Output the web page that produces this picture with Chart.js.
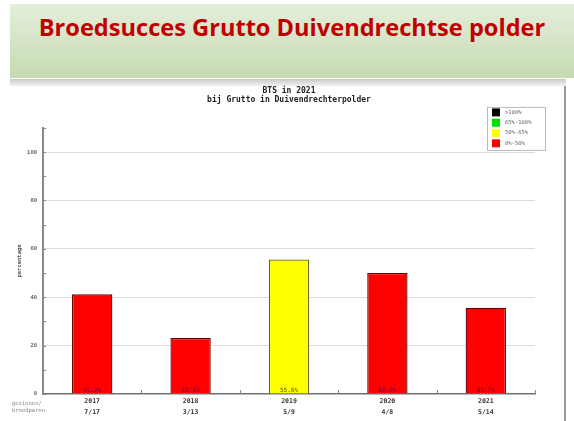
<!DOCTYPE html>
<html>
<head>
<meta charset="utf-8">
<script src="https://cdn.jsdelivr.net/npm/chart.js@4.4.1/dist/chart.umd.min.js"></script>
<style>
  html, body { margin: 0; padding: 0; background: #fff; width: 574px; height: 421px; overflow: hidden; position: relative; }
  #header { position: absolute; left: 10px; top: 4px; width: 564px; height: 74px;
    background: linear-gradient(#e4eedb, #c6dbb1); }
  #header h1 { margin: 0; position: absolute; left: 0; width: 564px; top: 7px; text-align: center;
    font-family: "Open Sans", sans-serif; font-weight: 700; font-size: 23.6px; color: #c00000; letter-spacing: 0px; }
  #band { position: absolute; left: 10px; top: 79px; width: 556px; height: 7px;
    background: linear-gradient(#c9c9c9, #f2f2f2); }
  #rborder { position: absolute; left: 564px; top: 86px; width: 2px; height: 335px; background: #9a9a9a; }
  #wrap { position: absolute; left: 0; top: 85px; width: 565px; height: 336px; }
</style>
</head>
<body>
<div id="header"><h1>Broedsucces Grutto Duivendrechtse polder</h1></div>
<div id="band"></div>
<div id="rborder"></div>
<div id="wrap"><canvas id="c"></canvas></div>
<script>
// ---- data ----
const years = ['2017', '2018', '2019', '2020', '2021'];
const fractions = ['7/17', '3/13', '5/9', '4/8', '5/14'];
const percentages = [41.2, 23.1, 55.6, 50.0, 35.7];
const chartTitle = ['BTS in 2021', 'bij Grutto in Duivendrechterpolder'];
const yAxisTitle = 'percentage';
const xAxisNote = ['gezinnen/', 'broedparen'];
const legendLabels = ['>100%', '65%-100%', '50%-65%', '0%-50%'];
const legendColors = ['#000000', '#00e000', '#ffff00', '#ff0000'];
const legendBorders = ['#000000', '#006000', '#6a6a00', '#6a0000'];

function classOf(v) {
  if (v > 100) return 0;
  if (v > 65) return 1;
  if (v > 50) return 2;
  return 3;
}
const barColors = percentages.map(v => legendColors[classOf(v)]);
const barBorders = percentages.map(v => legendBorders[classOf(v)]);
const valueTextColors = percentages.map(v => classOf(v) === 2 ? '#7a7a00' : '#8a0038');

const mono = 'DejaVu Sans Mono';

const decor = {
  id: 'decor',
  afterDatasetsDraw(chart) {
    const ctx = chart.ctx;
    const ca = chart.chartArea;
    const x = chart.scales.x, y = chart.scales.y;
    ctx.save();
    // value labels at bottom of bars
    const meta = chart.getDatasetMeta(0);
    ctx.font = 'bold 6px "' + mono + '"';
    ctx.textAlign = 'center';
    ctx.textBaseline = 'bottom';
    meta.data.forEach((bar, i) => {
      ctx.fillStyle = valueTextColors[i];
      ctx.fillText(percentages[i].toFixed(1) + '%', bar.x, ca.bottom - 1);
    });
    // small inward y ticks
    ctx.strokeStyle = '#888';
    ctx.lineWidth = 1;
    y.ticks.forEach(t => {
      const py = Math.round(y.getPixelForValue(t.value)) + 0.5;
      ctx.beginPath(); ctx.moveTo(ca.left, py); ctx.lineTo(ca.left + 3, py); ctx.stroke();
    });
    // small upward x ticks at category boundaries
    for (let i = 0; i < years.length; i++) {
      const px = Math.round(x.getPixelForValue(i) + (x.getPixelForValue(1) - x.getPixelForValue(0)) / 2) + 0.5;
      ctx.beginPath(); ctx.moveTo(px, ca.bottom); ctx.lineTo(px, ca.bottom - 4); ctx.stroke();
    }
    // legend box
    const lx = ca.right - 48, ly = ca.top - 21, lw = 58, lh = 43;
    ctx.fillStyle = '#fff';
    ctx.fillRect(lx, ly, lw, lh);
    ctx.strokeStyle = '#b8b8b8';
    ctx.strokeRect(lx + 0.5, ly + 0.5, lw, lh);
    ctx.font = '5.5px "' + mono + '"';
    ctx.textAlign = 'left';
    ctx.textBaseline = 'middle';
    legendLabels.forEach((lab, i) => {
      const cy = ly + 5.5 + i * 10.3;
      ctx.fillStyle = legendColors[i];
      ctx.fillRect(lx + 5, cy - 4, 8, 8);
      ctx.fillStyle = '#666';
      ctx.fillText(lab, lx + 18, cy);
    });
    // note under axis
    ctx.font = '5.5px "' + mono + '"';
    ctx.fillStyle = '#888';
    ctx.textAlign = 'left';
    ctx.fillText(xAxisNote[0], 12, ca.bottom + 10);
    ctx.fillText(xAxisNote[1], 12, ca.bottom + 17);
    ctx.restore();
  }
};

new Chart(document.getElementById('c'), {
  type: 'bar',
  data: {
    labels: years.map((y, i) => [y, fractions[i]]),
    datasets: [{
      data: percentages,
      backgroundColor: barColors,
      borderColor: barBorders,
      borderWidth: 1.3,
      borderSkipped: 'start',
      barPercentage: 0.41,
      categoryPercentage: 1.0
    }]
  },
  options: {
    responsive: true,
    maintainAspectRatio: false,
    animation: false,
    layout: { padding: { left: 16, right: 30, top: 0, bottom: 0 } },
    plugins: {
      legend: { display: false },
      tooltip: { enabled: false },
      title: {
        display: true,
        fullSize: false,
        text: chartTitle,
        color: '#222',
        font: { family: mono, weight: 'bold', size: 8, lineHeight: 1.15 },
        padding: { top: 1.5, bottom: 23 }
      }
    },
    scales: {
      x: {
        offset: true,
        grid: { display: false, drawTicks: false },
        border: { display: true, color: '#707070', width: 1.5 },
        ticks: {
          color: '#333',
          padding: 2,
          font: { family: mono, weight: 'bold', size: 6.5, lineHeight: 1.65 },
          maxRotation: 0
        },
        afterFit(s) { s.height = 27; }
      },
      y: {
        min: 0,
        max: 110,
        grid: {
          drawTicks: false,
          color: ctx => (ctx.tick && ctx.tick.value % 20 === 0 && ctx.tick.value > 0 && ctx.tick.value <= 100) ? '#dcdcdc' : 'rgba(0,0,0,0)'
        },
        border: { display: true, color: '#8a8a8a', width: 2 },
        ticks: {
          stepSize: 10,
          padding: 6,
          color: '#666',
          font: { family: mono, weight: 'bold', size: 5.5 },
          callback: v => (v % 20 === 0 && v <= 100) ? String(v) : ''
        },
        title: {
          display: true,
          text: yAxisTitle,
          color: '#555',
          font: { family: mono, weight: 'bold', size: 5.5 },
          padding: { top: 0, bottom: 0 }
        },
        afterFit(s) { s.width = 27; }
      }
    }
  },
  plugins: [decor]
});
</script>
</body>
</html>
